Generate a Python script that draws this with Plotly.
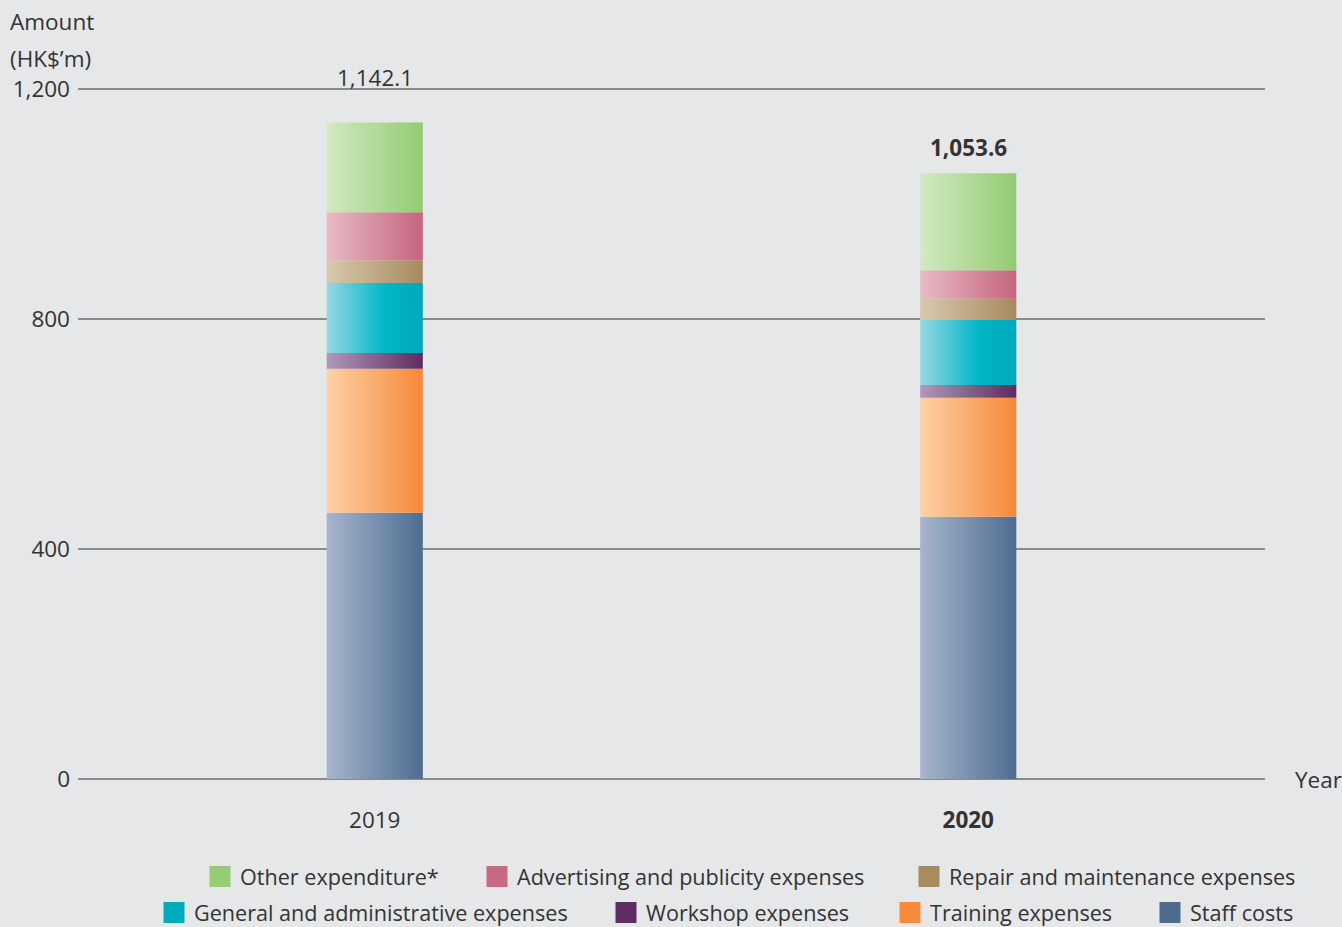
import plotly.graph_objects as go

# ---------------- data ----------------
years = ["2019", "2020"]
series_names = [
    "Staff costs",
    "Training expenses",
    "Workshop expenses",
    "General and administrative expenses",
    "Repair and maintenance expenses",
    "Advertising and publicity expenses",
    "Other expenditure*",
]
staff_costs = [463.3, 456.4]
training_expenses = [250.5, 207.0]
workshop_expenses = [27.2, 22.1]
general_admin_expenses = [122.0, 112.8]
repair_maintenance_expenses = [39.4, 36.9]
advertising_publicity_expenses = [83.3, 49.8]
other_expenditure = [156.4, 168.6]

series_values = [
    staff_costs,
    training_expenses,
    workshop_expenses,
    general_admin_expenses,
    repair_maintenance_expenses,
    advertising_publicity_expenses,
    other_expenditure,
]
y_ticks = [0, 400, 800, 1200]

# ---------------- style ----------------
gradients = [
    [[0, "#a7b5cc"], [1, "#4e6d91"]],
    [[0, "#fdd1a7"], [1, "#f6883a"]],
    [[0, "#af99bb"], [1, "#5d2b60"]],
    [[0, "#97d8e1"], [0.6, "#00b7c8"], [1, "#00a8ba"]],
    [[0, "#d9c9ae"], [1, "#a68a5e"]],
    [[0, "#e7bbc5"], [1, "#c6647f"]],
    [[0, "#d3e9c3"], [1, "#93cb72"]],
]
solid = ["#4e6c8f", "#f68b3c", "#5f2d63", "#00aabd", "#a88c5e", "#c96883", "#96cd74"]
# legend swatch centre (px) and row centre (px) for each series
legend_cx = [1170, 910, 626, 174, 929, 497, 220]
legend_cy = [913, 913, 913, 913, 877, 877, 877]

W, H = 1342, 927
ML, MR, MT, MB = 78, 77, 87.5, 148
PW, PH = W - ML - MR, H - MT - MB
half_w = 0.081
FONT = "Open Sans"
TXT = "#333333"
FS = 22.5
LFS = 21.6

fig = go.Figure()

# stacked gradient bars
for i, yr in enumerate(years):
    base = 0.0
    for s, name in enumerate(series_names):
        v = series_values[s][i]
        top = base + v
        fig.add_trace(go.Scatter(
            x=[i - half_w, i + half_w, i + half_w, i - half_w, i - half_w],
            y=[base, base, top, top, base],
            mode="lines", fill="toself",
            line=dict(width=0, color="rgba(0,0,0,0)"),
            fillgradient=dict(type="horizontal", colorscale=gradients[s]),
            name=name, showlegend=False,
            hovertemplate=f"{name}<br>{yr}: {v}<extra></extra>",
        ))
        base = top

# legend entries, one legend per entry so each can be placed like the reference
legend_layout = {}
for s in range(len(series_names)):
    key = "legend" if s == 0 else f"legend{s + 1}"
    fig.add_trace(go.Scatter(
        x=[None], y=[None], mode="markers",
        marker=dict(symbol="square", size=16, color=solid[s],
                    line=dict(width=5, color=solid[s])),
        name=series_names[s], legend=key, showlegend=True,
    ))
    legend_layout[key] = dict(
        orientation="h", xanchor="left", yanchor="middle",
        x=(legend_cx[s] - 20 - ML) / PW,
        y=-(legend_cy[s] - (H - MB)) / PH,
        bgcolor="rgba(0,0,0,0)", borderwidth=0,
        font=dict(family=FONT, size=LFS, color=TXT),
        itemsizing="trace",
    )

# totals
totals = [sum(series_values[s][i] for s in range(len(series_names))) for i in range(len(years))]
total_text = [f"{totals[0]:,.1f}", f"<b>{totals[1]:,.1f}</b>"]
total_shift = [27, 8]
for i in range(len(years)):
    fig.add_annotation(x=i, y=totals[i], xref="x", yref="y", text=total_text[i],
                       showarrow=False, yanchor="bottom", yshift=total_shift[i],
                       font=dict(family=FONT, size=FS, color=TXT))

fig.add_annotation(x=1, xref="paper", y=0, yref="paper", text="Year", showarrow=False,
                   xanchor="left", yanchor="middle", xshift=28,
                   font=dict(family=FONT, size=FS, color=TXT))
fig.add_annotation(x=(8 - ML) / PW, xref="paper", y=1, yref="paper", text="Amount",
                   showarrow=False, xanchor="left", yanchor="middle", yshift=67,
                   font=dict(family=FONT, size=FS, color=TXT))
fig.add_annotation(x=(8 - ML) / PW, xref="paper", y=1, yref="paper", text="(HK$’m)",
                   showarrow=False, xanchor="left", yanchor="middle", yshift=30,
                   font=dict(family=FONT, size=FS, color=TXT))

fig.update_layout(
    width=W, height=H,
    margin=dict(l=ML, r=MR, t=MT, b=MB, autoexpand=False),
    paper_bgcolor="#e6e7e9", plot_bgcolor="#e6e7e9",
    font=dict(family=FONT, size=FS, color=TXT),
    xaxis=dict(range=[-0.5, 1.5], tickvals=[0, 1], ticktext=["2019", "<b>2020</b>"],
               showgrid=False, zeroline=False, showline=False, ticks="",
               ticklabelstandoff=25, tickfont=dict(family=FONT, size=FS, color=TXT)),
    yaxis=dict(range=[0, 1202], tickvals=y_ticks, tickformat=",",
               showgrid=True, gridcolor="#8a8a8a", gridwidth=1.5,
               zeroline=True, zerolinecolor="#8a8a8a", zerolinewidth=2,
               showline=False, ticks="",
               ticklabelstandoff=7, tickfont=dict(family=FONT, size=FS, color=TXT)),
    showlegend=True,
    **legend_layout,
)

fig.write_html("out.html", config={"displayModeBar": False},
               post_script="document.body.style.margin='0';document.body.style.overflow='hidden';")
